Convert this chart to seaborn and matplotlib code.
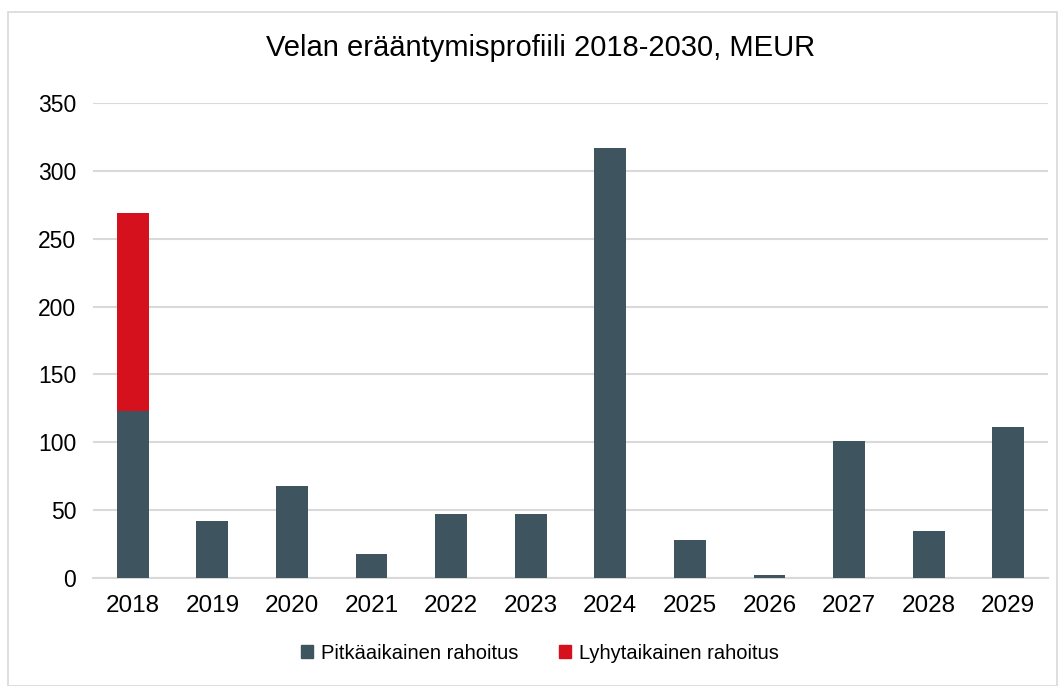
import numpy as np
import pandas as pd
import matplotlib.pyplot as plt
import seaborn as sns
from matplotlib.patches import Rectangle, Patch

# data
years = ['2018', '2019', '2020', '2021', '2022', '2023', '2024', '2025', '2026', '2027', '2028', '2029']
long_term = [123, 42, 68, 18, 47, 47, 317, 28, 2, 101, 35, 111]
short_term = [146, 0, 0, 0, 0, 0, 0, 0, 0, 0, 0, 0]
y_ticks = [0, 50, 100, 150, 200, 250, 300, 350]

gray = '#3E5560'
red = '#D6111E'

sns.set_theme(style='white')
plt.rcParams['font.family'] = ['Liberation Sans', 'DejaVu Sans']
plt.rcParams['text.color'] = 'black'

df = pd.DataFrame({'year': years, 'long': long_term, 'short': short_term})

fig = plt.figure(figsize=(10.59, 6.86), dpi=100)
ax = fig.add_axes([0.0878, 0.1574, 0.9018, 0.6925])

# stacked bars: long-term at the bottom, short-term on top
sns.barplot(data=df, x='year', y='long', color=gray, width=0.4, saturation=1,
            linewidth=0, ax=ax, zorder=3)
sns.barplot(data=df, x='year', y='short', color=red, width=0.4, saturation=1,
            linewidth=0, bottom=df['long'], ax=ax, zorder=3)

ax.set_ylim(0, 350)
ax.set_xlim(-0.5, len(years) - 0.5)
ax.set_yticks(y_ticks)
ax.yaxis.grid(True, color='#D9D9D9', linewidth=1.5, zorder=0)
for s in ['left', 'right', 'top']:
    ax.spines[s].set_visible(False)
ax.spines['bottom'].set_color('#D9D9D9')
ax.spines['bottom'].set_linewidth(1.5)
ax.set_xlabel('')
ax.set_ylabel('')
ax.tick_params(axis='both', length=0, labelsize=16.5, colors='black')
ax.tick_params(axis='x', labelsize=17.5, pad=12)
ax.tick_params(axis='y', pad=12)

fig.suptitle('Velan erääntymisprofiili 2018-2030, MEUR', x=0.51, y=0.95,
             fontsize=21, color='black')

handles = [Patch(color=gray, label='Pitkäaikainen rahoitus'),
           Patch(color=red, label='Lyhytaikainen rahoitus')]
fig.legend(handles=handles, loc='center', bbox_to_anchor=(0.51, 0.048), ncol=2,
           frameon=False, fontsize=14.5, handlelength=0.6, handleheight=0.6,
           handletextpad=0.4, columnspacing=2.0)

# light frame round the whole chart
fig.patches.append(Rectangle((0.008, 0.0), 0.99, 0.982, transform=fig.transFigure,
                             fill=False, edgecolor='#D9D9D9', linewidth=1.2))

fig.savefig('out.png', dpi=100)
